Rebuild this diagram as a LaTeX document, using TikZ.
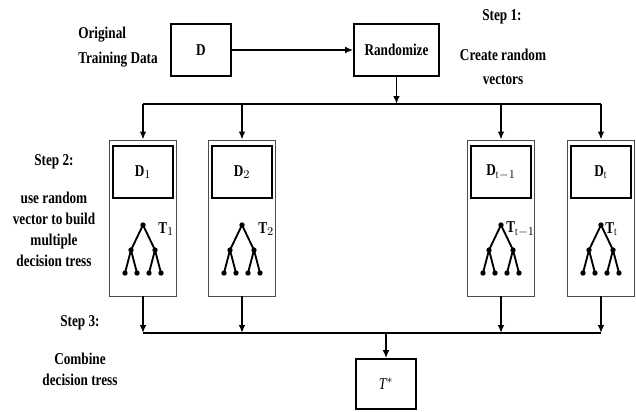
\documentclass[tikz,border=0pt]{standalone}
\usepackage{fontspec}
\setmainfont{Liberation Serif}[FakeStretch=0.8]
\usetikzlibrary{arrows.meta, positioning, calc}

\newcommand{\figfont}{\fontsize{12.4}{15.75}\selectfont\bfseries}

\tikzset{
  mainbox/.style={draw, line width=1.2pt, minimum width=45pt,
                  minimum height=39pt, font=\figfont},
  outerbox/.style={draw=black!70, line width=0.6pt, minimum width=50.25pt,
                   minimum height=117pt},
  innerbox/.style={draw, line width=1.8pt, minimum width=45pt,
                   minimum height=39pt, font=\figfont},
  steptext/.style={font=\figfont, align=center, inner sep=0pt},
  flow/.style={line width=1.2pt, -{Latex[length=6pt,width=5pt]}},
  bus/.style={line width=1.2pt},
  treeline/.style={line width=1.4pt}
}

\begin{document}
\begin{tikzpicture}[x=0.75pt, y=-0.75pt]
  \useasboundingbox (0,0) rectangle (636,411);

  % input and randomize
  \node[steptext, align=left, anchor=west] (orig) at (78,47.5)
       {Original\\[3pt]Training Data};
  \node[mainbox] (dbox) at (201,50) {D};
  \node[mainbox, minimum width=63.75pt] (rand) at (396.5,50) {Randomize};
  \draw[flow] (dbox) -- (rand);

  % step labels
  \node[steptext] (step1) at (502,17) {Step 1:};
  \node[steptext] (desc1) at (503,67) {Create random\\[2pt]vectors};
  \node[steptext] (step2) at (54,162) {Step 2:};
  \node[steptext] (desc2) at (54,229)
       {use random\\vector to build\\multiple\\decision tress};
  \node[steptext] (step3) at (80,323) {Step 3:};
  \node[steptext] (desc3) at (80,369.5) {Combine\\decision tress};

  % one column per tree
  \foreach \cx/\n/\dlab/\tlab/\toff in {143/1/{D$_{1}$}/{T$_{1}$}/15,
                                        242/2/{D$_{2}$}/{T$_{2}$}/16,
                                        501/3/{D$_{\mathrm{t}-1}$}/{T$_{\mathrm{t}-1}$}/5,
                                        601/4/{D$_{\mathrm{t}}$}/{T$_{\mathrm{t}}$}/4} {
    \node[outerbox] (o\n) at (\cx,218) {};
    \node[innerbox] (d\n) at (\cx,172) {\dlab};
    \node[font=\figfont, anchor=west, inner sep=0pt] (t\n) at (\cx+\toff,229) {\tlab};
    \draw[treeline] (\cx,225) -- (\cx-12,250) -- (\cx-18,273)
                    (\cx-12,250) -- (\cx-6,273)
                    (\cx,225) -- (\cx+12,250) -- (\cx+6,273)
                    (\cx+12,250) -- (\cx+18,273);
    \foreach \dx/\dy in {0/225, -12/250, 12/250, -18/273, -6/273, 6/273, 18/273}
      \fill (\cx+\dx,\dy) circle[radius=2pt];
  }

  % split into the columns
  \coordinate (ub) at (398,104);
  \draw[flow] (rand.south) -- (rand.south |- ub);
  \draw[bus] (o1.north |- ub) -- (o4.north |- ub);
  \foreach \n in {1,...,4}
    \draw[flow] (o\n.north |- ub) -- (o\n.north);

  % combine
  \node[mainbox, minimum height=37.5pt, font=\fontsize{12.4}{15.75}\selectfont]
       (tstar) at (386,384) {\itshape T$^{*}$};
  \coordinate (lb) at (386,333);
  \foreach \n in {1,...,4}
    \draw[flow] (o\n.south) -- (o\n.south |- lb);
  \draw[bus] (o1.south |- lb) -- (o4.south |- lb);
  \draw[flow] (lb) -- (tstar);
\end{tikzpicture}
\end{document}
